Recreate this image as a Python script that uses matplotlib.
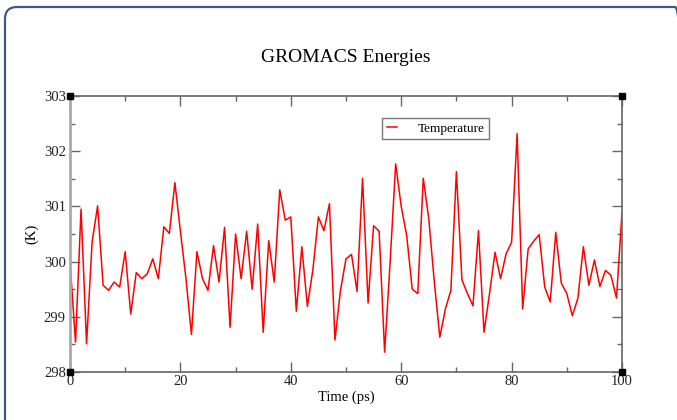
import numpy as np
import matplotlib
matplotlib.use("Agg")
import matplotlib.pyplot as plt
from matplotlib.patches import FancyBboxPatch
from matplotlib.ticker import MultipleLocator

# Temperature every 1 ps
time_ps = np.arange(0, 101)
temperature = [
    300.00, 298.54, 300.95, 298.51, 300.35, 301.01, 299.57, 299.48, 299.63, 299.54,
    300.18, 299.05, 299.80, 299.69, 299.78, 300.05, 299.69, 300.63, 300.51, 301.43,
    300.55, 299.70, 298.68, 300.18, 299.69, 299.48, 300.29, 299.63, 300.62, 298.81,
    300.50, 299.69, 300.55, 299.50, 300.68, 298.72, 300.38, 299.63, 301.30, 300.75,
    300.81, 299.10, 300.27, 299.19, 299.85, 300.81, 300.56, 301.05, 298.58, 299.48,
    300.05, 300.13, 299.46, 301.51, 299.25, 300.65, 300.55, 298.36, 300.00, 301.77,
    301.00, 300.47, 299.50, 299.42, 301.51, 300.77, 299.63, 298.63, 299.14, 299.48,
    301.63, 299.67, 299.42, 299.20, 300.56, 298.72, 299.42, 300.17, 299.69, 300.14,
    300.35, 302.32, 299.14, 300.23, 300.37, 300.49, 299.54, 299.27, 300.53, 299.61,
    299.42, 299.02, 299.33, 300.27, 299.57, 300.03, 299.55, 299.84, 299.75, 299.34,
    300.89,
]

plt.rcParams['font.family'] = ['Liberation Serif', 'DejaVu Serif']

fig = plt.figure(figsize=(6.77, 4.20), dpi=100)

# rounded frame around the figure, in inches (runs off the right and bottom edges)
frame = FancyBboxPatch((0.05, -0.6), 6.82, 4.73,
                       boxstyle="round,pad=0,rounding_size=0.12",
                       transform=fig.dpi_scale_trans, fill=False,
                       edgecolor='#3d5a7d', linewidth=1.6, clip_on=False)
fig.patches.append(frame)

ax = fig.add_axes([70 / 677, 1 - 372 / 420, 552 / 677, 276 / 420])
ax.plot(time_ps, temperature, color='red', linewidth=1.1, label='Temperature')

ax.set_xlim(0, 100)
ax.set_ylim(298, 303)
ax.xaxis.set_major_locator(MultipleLocator(20))
ax.xaxis.set_minor_locator(MultipleLocator(10))
ax.yaxis.set_major_locator(MultipleLocator(1))
ax.yaxis.set_minor_locator(MultipleLocator(0.5))
ax.tick_params(which='both', direction='in', top=True, right=True,
               colors='#666666', labelcolor='#222222', labelsize=10.5)
ax.tick_params(which='major', length=7, width=1.0)
ax.tick_params(which='minor', length=3.6, width=1.0)
ax.tick_params(axis='x', pad=2)
ax.tick_params(axis='y', pad=3)

for side in ['top', 'right', 'bottom']:
    ax.spines[side].set_color('#666666')
    ax.spines[side].set_linewidth(1.2)
ax.spines['left'].set_color('#aaaaaa')
ax.spines['left'].set_linewidth(2.0)

# little black squares at the corners, xmgrace style
for cx in (0, 1):
    for cy in (0, 1):
        ax.plot(cx, cy, marker='s', markersize=4, color='black',
                transform=ax.transAxes, clip_on=False, zorder=5)

ax.set_xlabel('Time (ps)', fontsize=10.5, labelpad=2)
ax.set_ylabel('(K)', fontsize=10.5, labelpad=4)
fig.text(346 / 677, 1 - 57 / 420, 'GROMACS Energies', ha='center', va='center',
         fontsize=14)

leg = ax.legend(loc='upper left', bbox_to_anchor=(312 / 552, 1 - 22 / 276),
                fontsize=9.5, frameon=True, fancybox=False, handlelength=0.75,
                handletextpad=1.6, borderpad=0.35, borderaxespad=0)
leg.get_frame().set_edgecolor('#555555')
leg.get_frame().set_linewidth(1.0)

fig.savefig('out.png', dpi=100)
